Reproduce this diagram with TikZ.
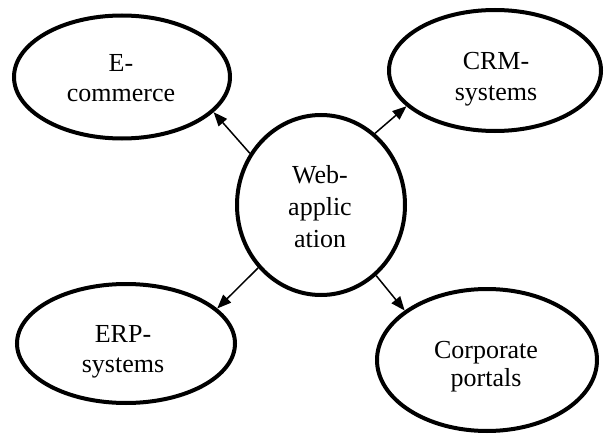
\documentclass[tikz,border=0pt]{standalone}
\usepackage{fontspec}
\setmainfont{Liberation Serif}
\usetikzlibrary{shapes.geometric,arrows.meta}
\begin{document}
\begin{tikzpicture}[x=1pt,y=-1pt,
  bubble/.style={ellipse, draw, line width=4pt, inner sep=0pt},
  word/.style={anchor=base, inner sep=0pt, font=\fontsize{26}{30}\selectfont},
  link/.style={line width=1.5pt, -{Triangle[length=14pt,width=11pt]}}]
\useasboundingbox (0,0) rectangle (608,436);

% outlines
\node[bubble, minimum width=216pt, minimum height=123pt] (ecom) at (122,77) {};
\node[bubble, minimum width=212pt, minimum height=121pt] (crm) at (495,70.5) {};
\node[bubble, minimum width=168pt, minimum height=180pt] (web) at (321,205) {};
\node[bubble, minimum width=218pt, minimum height=119pt] (erp) at (126,343.5) {};
\node[bubble, minimum width=220pt, minimum height=142pt] (portal) at (487,360) {};

% labels, one node per line
\node[word] (ecomA) at (121,72) {E-};
\node[word] (ecomB) at (121,102) {commerce};
\node[word] (crmA) at (496,70) {CRM-};
\node[word] (crmB) at (496,100) {systems};
\node[word] (webA) at (320,183) {Web-};
\node[word] (webB) at (320,215) {applic};
\node[word] (webC) at (320,247) {ation};
\node[word] (erpA) at (123,342) {ERP-};
\node[word] (erpB) at (123,372) {systems};
\node[word] (portalA) at (486,358) {Corporate};
\node[word] (portalB) at (486,386) {portals};

% connectors from the centre
\draw[link] (web.144) -- (ecom.339);
\draw[link] (web.53) -- (crm.202);
\draw[link] (web.225) -- (erp.21);
\draw[link] (web.308) -- (portal.149);
\end{tikzpicture}
\end{document}
